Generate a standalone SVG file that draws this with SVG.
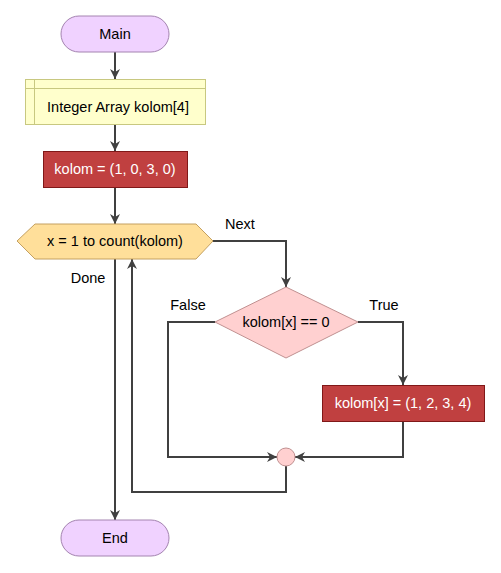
<svg xmlns="http://www.w3.org/2000/svg" width="501" height="573" viewBox="0 0 501 573">
<defs>
<marker id="ah" markerWidth="10" markerHeight="10" refX="10" refY="5" orient="auto" markerUnits="userSpaceOnUse">
<path d="M0,0 L10,5 L0,10 L3,5 Z" fill="#404040"/>
</marker>
<style>
text{font-family:"Liberation Sans",Arial,sans-serif;font-size:14.5px;}
.c{text-anchor:middle;dominant-baseline:central;}
.term{fill:#f0d2ff;stroke:#a484b0;stroke-width:1;}
.decl{fill:#ffffcc;stroke:#c8c880;stroke-width:1;}
.asg{fill:#c04040;stroke:#801818;stroke-width:1;}
.loop{fill:#ffdf9a;stroke:#c4a060;stroke-width:1;}
.dec{fill:#ffd0d0;stroke:#c09090;stroke-width:1;}
.w{fill:#ffffff;}
.k{fill:#000000;}
.ln{fill:none;stroke:#404040;stroke-width:2;}
</style>
</defs>
<g id="connectors">
<path class="ln" d="M115,52 V79" marker-end="url(#ah)"/>
<path class="ln" d="M115,124 V151" marker-end="url(#ah)"/>
<path class="ln" d="M115,187 V224" marker-end="url(#ah)"/>
<path class="ln" d="M213,241 H286 V287" marker-end="url(#ah)"/>
<path class="ln" d="M358,322 H403 V385" marker-end="url(#ah)"/>
<path class="ln" d="M215,322 H168 V457 H277" marker-end="url(#ah)"/>
<path class="ln" d="M403,421 V457 H295" marker-end="url(#ah)"/>
<path class="ln" d="M286,466 V492 H132 V259" marker-end="url(#ah)"/>
<path class="ln" d="M115,259 V520" marker-end="url(#ah)"/>
<text x="240" y="224" class="c k">Next</text>
<text x="88" y="278" class="c k">Done</text>
<text x="188" y="305" class="c k">False</text>
<text x="384" y="305" class="c k">True</text>
</g>
<g id="main">
<rect class="term" x="61" y="16" width="108" height="36" rx="18" ry="18"/>
<text x="115" y="34" class="c k">Main</text>
</g>
<g id="declare">
<rect class="decl" x="25.5" y="79.5" width="180" height="45"/>
<line class="decl" x1="34.5" y1="79.5" x2="34.5" y2="124.5"/>
<line class="decl" x1="25.5" y1="88.5" x2="205.5" y2="88.5"/>
<text x="118" y="107" class="c k">Integer Array kolom[4]</text>
</g>
<g id="assign1">
<rect class="asg" x="43.5" y="151.5" width="144" height="36"/>
<text x="115" y="169" class="c w">kolom = (1, 0, 3, 0)</text>
</g>
<g id="loop">
<polygon class="loop" points="17,241 35,224 196,224 213,241 196,259 35,259"/>
<text x="115" y="241" class="c k">x = 1 to count(kolom)</text>
</g>
<g id="decision">
<polygon class="dec" points="286,287 358,322 286,358 215,322"/>
<text x="286" y="322" class="c k">kolom[x] == 0</text>
</g>
<g id="assign2">
<rect class="asg" x="322.5" y="385.5" width="162" height="36"/>
<text x="403" y="403" class="c w">kolom[x] = (1, 2, 3, 4)</text>
</g>
<g id="join">
<circle class="dec" cx="286" cy="457" r="9"/>
</g>
<g id="end">
<rect class="term" x="61" y="520" width="108" height="36" rx="18" ry="18"/>
<text x="115" y="538" class="c k">End</text>
</g>
</svg>
